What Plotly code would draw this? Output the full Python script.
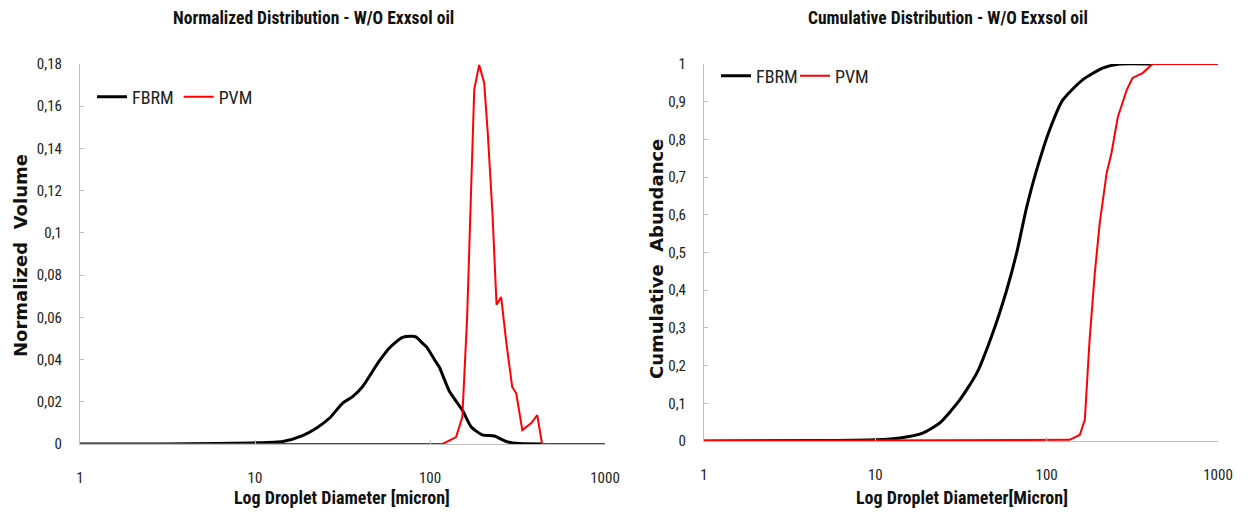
import plotly.graph_objects as go

# ---------------- data ----------------
# Left: normalized volume distribution
fbrm_norm_d = [1, 3, 6, 9.7, 14.4, 18.7, 22.5, 26.7, 31.7, 36, 41, 51, 58.6, 69.6, 79, 83,
               90.5, 95.5, 109, 113, 129, 153, 172, 199, 233, 273, 324, 440]
fbrm_norm_v = [0, 0, 0.0002, 0.0005, 0.0012, 0.004, 0.0076, 0.0123, 0.0194, 0.0223, 0.027, 0.039,
               0.0455, 0.0505, 0.051, 0.0507, 0.0478, 0.046, 0.0384, 0.0365, 0.025, 0.0161,
               0.0081, 0.0043, 0.0038, 0.0012, 0.0002, 0]

pvm_norm_d = [1, 118, 141, 153, 163, 172, 179, 191, 204, 214, 228, 240, 255, 273, 295, 311,
              337, 379, 410, 437, 1000]
pvm_norm_v = [0, 0, 0.0033, 0.0128, 0.060, 0.1236, 0.168, 0.1795, 0.171, 0.147, 0.1075, 0.066,
              0.0696, 0.048, 0.027, 0.024, 0.0066, 0.0099, 0.0137, 0, 0]

# Right: cumulative distribution
fbrm_cum_d = [1, 5, 10, 13.9, 18.9, 23.8, 31.1, 39.1, 48.4, 58.4, 66.8, 76.4, 87.4, 104, 124,
              162, 212, 267, 415]
fbrm_cum_v = [0, 0.001, 0.003, 0.008, 0.021, 0.048, 0.109, 0.180, 0.286, 0.40, 0.499, 0.62,
              0.719, 0.825, 0.904, 0.958, 0.989, 1.0, 1.0]

pvm_cum_d = [1, 136, 156, 167, 178, 191, 204, 224, 239, 260, 293, 317, 363, 415, 1000]
pvm_cum_v = [0, 0.003, 0.016, 0.056, 0.268, 0.446, 0.578, 0.711, 0.764, 0.859, 0.931, 0.963,
             0.976, 1.0, 1.0]

x_tick_vals = [1, 10, 100, 1000]
x_tick_text = ["1", "10", "100", "1000"]
left_y_vals = [0, 0.02, 0.04, 0.06, 0.08, 0.1, 0.12, 0.14, 0.16, 0.18]
left_y_text = ["0", "0,02", "0,04", "0,06", "0,08", "0,1", "0,12", "0,14", "0,16", "0,18"]
right_y_vals = [0, 0.1, 0.2, 0.3, 0.4, 0.5, 0.6, 0.7, 0.8, 0.9, 1.0]
right_y_text = ["0", "0,1", "0,2", "0,3", "0,4", "0,5", "0,6", "0,7", "0,8", "0,9", "1"]

FONT = "Roboto Condensed, Arial Narrow, sans-serif"
WIDE = "DejaVu Sans, Verdana, sans-serif"
BLACK = "#000000"
RED = "#ff0000"

fig = go.Figure()

fig.add_trace(go.Scatter(x=fbrm_norm_d, y=fbrm_norm_v, mode="lines", name="FBRM",
                         line=dict(color=BLACK, width=3, shape="spline", smoothing=0.6),
                         xaxis="x", yaxis="y", legend="legend"))
fig.add_trace(go.Scatter(x=pvm_norm_d, y=pvm_norm_v, mode="lines", name="PVM",
                         line=dict(color=RED, width=2),
                         xaxis="x", yaxis="y", legend="legend"))
fig.add_trace(go.Scatter(x=fbrm_cum_d, y=fbrm_cum_v, mode="lines", name="FBRM",
                         line=dict(color=BLACK, width=3, shape="spline", smoothing=0.6),
                         xaxis="x2", yaxis="y2", legend="legend2"))
fig.add_trace(go.Scatter(x=pvm_cum_d, y=pvm_cum_v, mode="lines", name="PVM",
                         line=dict(color=RED, width=2),
                         xaxis="x2", yaxis="y2", legend="legend2"))

W, H = 1249, 518
axis_common = dict(showgrid=False, zeroline=False, showline=True, linecolor="#bfbfbf",
                   linewidth=1, ticks="inside", ticklen=4, tickcolor="#bfbfbf",
                   automargin=False,
                   tickfont=dict(family=FONT, size=15, color="#222222"))

fig.update_layout(
    width=W, height=H,
    margin=dict(l=0, r=0, t=0, b=0, autoexpand=False),
    paper_bgcolor="white", plot_bgcolor="white",
    showlegend=True,
    xaxis=dict(type="log", range=[0, 3], domain=[80 / W, 605 / W], anchor="y",
               tickvals=x_tick_vals, ticktext=x_tick_text, ticklabelstandoff=20,
               **axis_common),
    yaxis=dict(range=[0, 0.18], domain=[(H - 444) / H, (H - 64) / H], anchor="x",
               tickvals=left_y_vals, ticktext=left_y_text, ticklabelstandoff=14,
               **axis_common),
    xaxis2=dict(type="log", range=[0, 3], domain=[704 / W, 1218 / W], anchor="y2",
                tickvals=x_tick_vals, ticktext=x_tick_text, ticklabelstandoff=20,
                **axis_common),
    yaxis2=dict(range=[0, 1], domain=[(H - 441) / H, (H - 64) / H], anchor="x2",
                tickvals=right_y_vals, ticktext=right_y_text, ticklabelstandoff=14,
                **axis_common),
    legend=dict(x=92 / W, y=1 - 97 / H, xanchor="left", yanchor="middle",
                orientation="h", bgcolor="rgba(0,0,0,0)", itemwidth=30,
                font=dict(family=FONT, size=18, color="#222222")),
    legend2=dict(x=716 / W, y=1 - 76 / H, xanchor="left", yanchor="middle",
                 orientation="h", bgcolor="rgba(0,0,0,0)", itemwidth=30, entrywidth=34,
                 font=dict(family=FONT, size=18, color="#222222")),
    annotations=[
        dict(text="<b>Normalized Distribution - W/O Exxsol oil</b>", x=313 / W, y=1 - 18 / H,
             xref="paper", yref="paper", showarrow=False, xanchor="center", yanchor="middle",
             font=dict(family=FONT, size=17.5, color="#111111")),
        dict(text="<b>Cumulative Distribution - W/O Exxsol oil</b>", x=948 / W, y=1 - 18 / H,
             xref="paper", yref="paper", showarrow=False, xanchor="center", yanchor="middle",
             font=dict(family=FONT, size=17.5, color="#111111")),
        dict(text="<b>Log Droplet Diameter [micron]</b>", x=342 / W, y=1 - 497 / H,
             xref="paper", yref="paper", showarrow=False, xanchor="center", yanchor="middle",
             font=dict(family=FONT, size=18, color="#111111")),
        dict(text="<b>Log Droplet Diameter[Micron]</b>", x=962 / W, y=1 - 497 / H,
             xref="paper", yref="paper", showarrow=False, xanchor="center", yanchor="middle",
             font=dict(family=FONT, size=18, color="#111111")),
        dict(text="<b>Normalized  Volume</b>", x=20 / W, y=1 - 256 / H, textangle=-90,
             xref="paper", yref="paper", showarrow=False, xanchor="center", yanchor="middle",
             font=dict(family=WIDE, size=18, color="#111111")),
        dict(text="<b>Cumulative  Abundance</b>", x=656 / W, y=1 - 259 / H, textangle=-90,
             xref="paper", yref="paper", showarrow=False, xanchor="center", yanchor="middle",
             font=dict(family=WIDE, size=18, color="#111111")),
    ],
)

fig.write_html("out.html")
